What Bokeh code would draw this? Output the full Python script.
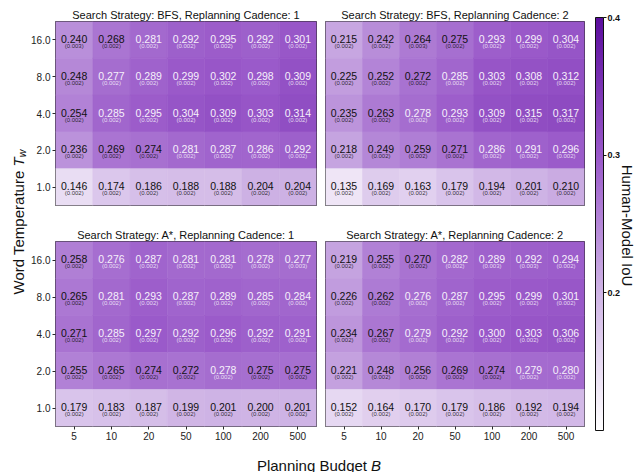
import numpy as np
from bokeh.plotting import figure
from bokeh.models import (ColumnDataSource, LinearColorMapper, ColorBar, FactorRange,
                          Range1d, FixedTicker)
from bokeh.layouts import row, column
from bokeh.transform import transform
from bokeh.embed import file_html
from bokeh.resources import INLINE
from bokeh.core.properties import value

# ---------------- data ----------------
budgets = ["5", "10", "20", "50", "100", "200", "500"]
temps_top_down = ["16.0", "8.0", "4.0", "2.0", "1.0"]

strategies = ["BFS", "BFS", "A*", "A*"]
cadences = [1, 2, 1, 2]

bfs_c1_iou = [
    [0.240, 0.268, 0.281, 0.292, 0.295, 0.292, 0.301],
    [0.248, 0.277, 0.289, 0.299, 0.302, 0.298, 0.309],
    [0.254, 0.285, 0.295, 0.304, 0.309, 0.303, 0.314],
    [0.236, 0.269, 0.274, 0.281, 0.287, 0.286, 0.292],
    [0.146, 0.174, 0.186, 0.188, 0.188, 0.204, 0.204],
]
bfs_c1_se = [
    [0.003, 0.002, 0.002, 0.002, 0.002, 0.002, 0.002],
    [0.002, 0.002, 0.002, 0.002, 0.002, 0.002, 0.002],
    [0.002, 0.002, 0.002, 0.002, 0.002, 0.002, 0.002],
    [0.002, 0.002, 0.002, 0.002, 0.002, 0.002, 0.002],
    [0.002, 0.002, 0.002, 0.002, 0.002, 0.002, 0.002],
]
bfs_c2_iou = [
    [0.215, 0.242, 0.264, 0.275, 0.293, 0.299, 0.304],
    [0.225, 0.252, 0.272, 0.285, 0.303, 0.308, 0.312],
    [0.235, 0.263, 0.278, 0.293, 0.309, 0.315, 0.317],
    [0.218, 0.249, 0.259, 0.271, 0.286, 0.291, 0.296],
    [0.135, 0.169, 0.163, 0.179, 0.194, 0.201, 0.210],
]
bfs_c2_se = [
    [0.002, 0.002, 0.003, 0.002, 0.002, 0.002, 0.002],
    [0.002, 0.002, 0.002, 0.002, 0.002, 0.002, 0.002],
    [0.002, 0.002, 0.002, 0.002, 0.002, 0.002, 0.002],
    [0.002, 0.002, 0.002, 0.002, 0.002, 0.002, 0.002],
    [0.002, 0.002, 0.002, 0.002, 0.002, 0.002, 0.002],
]
astar_c1_iou = [
    [0.258, 0.276, 0.287, 0.281, 0.281, 0.278, 0.277],
    [0.265, 0.281, 0.293, 0.287, 0.289, 0.285, 0.284],
    [0.271, 0.285, 0.297, 0.292, 0.296, 0.292, 0.291],
    [0.255, 0.265, 0.274, 0.272, 0.278, 0.275, 0.275],
    [0.179, 0.183, 0.187, 0.199, 0.201, 0.200, 0.201],
]
astar_c1_se = [
    [0.002, 0.002, 0.002, 0.002, 0.002, 0.002, 0.003],
    [0.002, 0.002, 0.002, 0.002, 0.002, 0.002, 0.002],
    [0.002, 0.002, 0.002, 0.002, 0.002, 0.002, 0.002],
    [0.002, 0.002, 0.002, 0.002, 0.002, 0.002, 0.002],
    [0.002, 0.002, 0.002, 0.002, 0.002, 0.002, 0.002],
]
astar_c2_iou = [
    [0.219, 0.255, 0.270, 0.282, 0.289, 0.292, 0.294],
    [0.226, 0.262, 0.276, 0.287, 0.295, 0.299, 0.301],
    [0.234, 0.267, 0.279, 0.292, 0.300, 0.303, 0.306],
    [0.221, 0.248, 0.256, 0.269, 0.274, 0.279, 0.280],
    [0.152, 0.164, 0.170, 0.179, 0.186, 0.192, 0.194],
]
astar_c2_se = [
    [0.002, 0.002, 0.002, 0.002, 0.003, 0.003, 0.002],
    [0.002, 0.002, 0.002, 0.002, 0.002, 0.002, 0.002],
    [0.002, 0.002, 0.002, 0.002, 0.002, 0.002, 0.002],
    [0.002, 0.002, 0.002, 0.002, 0.002, 0.002, 0.002],
    [0.002, 0.002, 0.002, 0.002, 0.002, 0.002, 0.002],
]

colorbar_ticks = [0.2, 0.3, 0.4]
color_low, color_high = 0.1, 0.4

# ---------------- style ----------------
FONT = "Liberation Sans"
DARK = "#111111"
LIGHT = "#f6f0fb"
EDGE = "#2a2a2a"
TOTAL_H = 472

anchor_t = [0.0, 1 / 3, 2 / 3, 1.0]
anchor_c = [(255, 255, 255), (207, 180, 229), (153, 88, 201), (92, 14, 158)]
palette = []
for i in range(256):
    t = i / 255
    rgb = [int(round(np.interp(t, anchor_t, [c[k] for c in anchor_c]))) for k in range(3)]
    palette.append("#%02x%02x%02x" % tuple(rgb))
mapper = LinearColorMapper(palette=palette, low=color_low, high=color_high)


def make_panel(iou, se, strategy, cadence, top, left):
    p = figure(x_range=FactorRange(factors=budgets),
               y_range=FactorRange(factors=temps_top_down[::-1]),
               frame_width=261 if left else 259, frame_height=184 if top else 185,
               toolbar_location=None, output_backend="svg",
               min_border_left=26 if left else 5,
               min_border_right=4 if left else 5,
               min_border_top=21 if top else 20,
               min_border_bottom=16 if top else 20,
               border_fill_color="white",
               title=f"Search Strategy: {strategy}, Replanning Cadence: {cadence}")
    p.title.align = "center"
    p.title.text_font = FONT
    p.title.text_font_size = "11px"
    p.title.text_font_style = "normal"
    p.title.text_color = DARK
    p.title.standoff = 2
    p.grid.visible = False
    p.outline_line_color = EDGE
    p.outline_line_width = 1
    for ax in p.axis:
        ax.axis_line_color = None
        ax.major_tick_out = 3
        ax.major_tick_in = 0
        ax.major_tick_line_color = EDGE
        ax.minor_tick_line_color = None
        ax.major_label_text_font = FONT
        ax.major_label_text_font_size = "10px"
        ax.major_label_text_color = "#222222"
        ax.major_label_standoff = 2
    p.xaxis.visible = not top
    p.yaxis.visible = left

    xs, ys, vals, vstr, sstr, tcol = [], [], [], [], [], []
    for r, t in enumerate(temps_top_down):
        for c, b in enumerate(budgets):
            v = iou[r][c]
            xs.append(b)
            ys.append(t)
            vals.append(v)
            vstr.append(f"{v:.3f}")
            sstr.append(f"({se[r][c]:.3f})")
            tcol.append(LIGHT if v > 0.2755 else DARK)
    src = ColumnDataSource(dict(x=xs, y=ys, v=vals, vs=vstr, ss=sstr, tc=tcol))
    p.rect(x="x", y="y", width=1, height=1, source=src,
           fill_color=transform("v", mapper), line_color=transform("v", mapper), line_width=0.6)
    p.text(x="x", y="y", text="vs", source=src, text_color="tc",
           text_font=value(FONT), text_font_size="10.5px",
           text_align="center", text_baseline="middle", y_offset=-1)
    p.text(x="x", y="y", text="ss", source=src, text_color="tc", text_alpha=0.85,
           text_font=value(FONT), text_font_size="6px",
           text_align="center", text_baseline="middle", y_offset=6)
    return p


p1 = make_panel(bfs_c1_iou, bfs_c1_se, strategies[0], cadences[0], True, True)
p2 = make_panel(bfs_c2_iou, bfs_c2_se, strategies[1], cadences[1], True, False)
p3 = make_panel(astar_c1_iou, astar_c1_se, strategies[2], cadences[2], False, True)
p4 = make_panel(astar_c2_iou, astar_c2_se, strategies[3], cadences[3], False, False)


def blank(w, h):
    f = figure(width=w, height=h, x_range=Range1d(0, w), y_range=Range1d(0, h),
               min_border=0, toolbar_location=None, output_backend="svg",
               outline_line_color=None, border_fill_color="white")
    f.axis.visible = False
    f.grid.visible = False
    return f


# y-axis title (figure data units = pixels, y measured up from the bottom)
ylab = blank(28, TOTAL_H)
ylab.text(x=[17.5], y=[TOTAL_H - 170.0], text=["Word Temperature"], angle=np.pi / 2,
          text_align="right", text_baseline="middle", text_font=value(FONT),
          text_font_size="15px", text_color=DARK)
ylab.text(x=[17.5], y=[TOTAL_H - 165.9], text=["T"], angle=np.pi / 2,
          text_align="left", text_baseline="middle", text_font=value(FONT),
          text_font_size="15px", text_font_style="italic", text_color=DARK)
ylab.text(x=[21.6], y=[TOTAL_H - 156.7], text=["w"], angle=np.pi / 2,
          text_align="left", text_baseline="middle", text_font=value(FONT),
          text_font_size="10.5px", text_font_style="italic", text_color=DARK)

# x-axis title
xlab = blank(560, 26)
xlab.text(x=[338.5], y=[7.5], text=["Planning Budget"], text_align="right",
          text_baseline="middle", text_font=value(FONT), text_font_size="15px",
          text_color=DARK)
xlab.text(x=[342.6], y=[7.5], text=["B"], text_align="left",
          text_baseline="middle", text_font=value(FONT), text_font_size="15px",
          text_font_style="italic", text_color=DARK)

# colour bar
cb_fig = blank(50, TOTAL_H)
cbar = ColorBar(color_mapper=mapper, location=(6, TOTAL_H - 430), width=8, height=413,
                padding=0, margin=0, ticker=FixedTicker(ticks=colorbar_ticks),
                major_label_text_font=FONT, major_label_text_font_size="9px",
                major_label_text_font_style="bold", major_label_text_color=DARK,
                major_tick_out=3, major_tick_in=0, major_tick_line_color=DARK,
                label_standoff=1, bar_line_color=DARK, bar_line_width=1,
                background_fill_alpha=0, border_line_color=None)
cb_fig.add_layout(cbar, "center")
cb_fig.text(x=[38], y=[TOTAL_H - 225], text=["Human-Model IoU"], angle=-np.pi / 2,
            text_align="center", text_baseline="middle", text_font=value(FONT),
            text_font_size="15px", text_color=DARK)

layout = row(ylab, column(row(p1, p2), row(p3, p4), xlab), cb_fig)

open("out.html", "w").write(file_html(layout, INLINE))
